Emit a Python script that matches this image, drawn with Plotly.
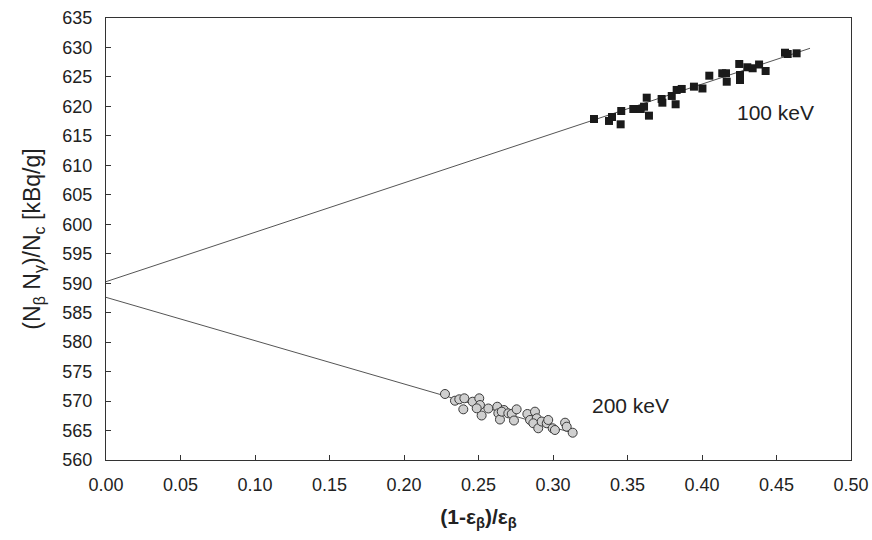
import plotly.graph_objects as go

# 100 keV data (squares)
x_100 = [0.3275, 0.3376, 0.3396, 0.3454, 0.3458, 0.3539, 0.3589, 0.3611, 0.3644, 0.3629,
         0.3729, 0.3734, 0.3797, 0.3823, 0.3830, 0.3864, 0.3946, 0.4003, 0.4049, 0.4136,
         0.4161, 0.4166, 0.4250, 0.4255, 0.4255, 0.4304, 0.4340, 0.4383, 0.4427, 0.4557,
         0.4575, 0.4635]
y_100 = [617.86, 617.53, 618.20, 616.96, 619.22, 619.56, 619.56, 619.95, 618.43, 621.48,
         621.26, 620.63, 621.77, 620.36, 622.79, 622.96, 623.35, 623.04, 625.21, 625.62,
         625.62, 624.19, 627.20, 625.33, 624.48, 626.64, 626.47, 627.11, 626.01, 629.11,
         628.89, 629.01]

# 200 keV data (circles)
x_200 = [0.2275, 0.2342, 0.2371, 0.2405, 0.2398, 0.2461, 0.2505, 0.2510, 0.2521, 0.2566,
         0.2488, 0.2626, 0.2633, 0.2644, 0.2671, 0.2656, 0.2700, 0.2723, 0.2756, 0.2738,
         0.2828, 0.2846, 0.2879, 0.2891, 0.2868, 0.2901, 0.2924, 0.2958, 0.2968, 0.2998,
         0.3013, 0.3081, 0.3092, 0.3132]
y_200 = [571.2, 570.06, 570.3, 570.47, 568.6, 569.89, 570.47, 569.33, 567.55, 568.74,
         568.77, 569.04, 567.92, 566.87, 568.48, 568.2, 567.92, 567.81, 568.6, 566.7,
         567.81, 566.79, 568.2, 567.08, 566.23, 565.38, 566.53, 566.23, 566.79, 565.38,
         565.09, 566.33, 565.65, 564.63]

# fitted lines (extrapolated to x = 0)
fit_x_100 = [0.0, 0.4725]
fit_y_100 = [590.26, 629.86]
fit_x_200 = [0.0, 0.313]
fit_y_200 = [587.6, 564.6]

labels = ["100 keV", "200 keV"]
label_x = [0.449, 0.3517]
label_y = [618.9, 569.3]

x_ticks = [i * 0.05 for i in range(11)]
y_ticks = list(range(560, 636, 5))

FONT = "Liberation Sans, Arial"

fig = go.Figure()
fig.add_trace(go.Scatter(x=fit_x_100, y=fit_y_100, mode="lines",
                         line=dict(color="#555555", width=1), showlegend=False))
fig.add_trace(go.Scatter(x=fit_x_200, y=fit_y_200, mode="lines",
                         line=dict(color="#555555", width=1), showlegend=False))
fig.add_trace(go.Scatter(x=x_100, y=y_100, mode="markers",
                         marker=dict(symbol="square", size=8, color="#1a1a1a",
                                     line=dict(width=0)), showlegend=False))
fig.add_trace(go.Scatter(x=x_200, y=y_200, mode="markers",
                         marker=dict(symbol="circle", size=9, color="#cfcfcf",
                                     line=dict(color="#3a3a3a", width=1)), showlegend=False))

for t, lx, ly in zip(labels, label_x, label_y):
    fig.add_annotation(x=lx, y=ly, text=t, showarrow=False,
                       font=dict(family=FONT, size=21, color="#222222"))

axis_common = dict(showgrid=False, zeroline=False, showline=True, linecolor="#333333",
                   linewidth=1, mirror=True, ticks="inside", ticklen=5, tickcolor="#333333",
                   automargin=False, ticklabeloverflow="allow",
                   tickfont=dict(family=FONT, size=18, color="#222222"))

fig.update_xaxes(range=[0, 0.5], tickvals=x_ticks,
                 ticktext=[f"{v:.2f}" for v in x_ticks], ticklabelstandoff=8,
                 title=dict(text="<b>(1-ε<sub>β</sub>)/ε<sub>β</sub></b>",
                            font=dict(family=FONT, size=21, color="#222222")),
                 **axis_common)
fig.update_yaxes(range=[560, 635], tickvals=y_ticks, ticklabelstandoff=9,
                 title=dict(text="(N<sub>β</sub> N<sub>γ</sub>)/N<sub>c</sub> [kBq/g]",
                            font=dict(family=FONT, size=23, color="#222222")),
                 **axis_common)

fig.update_layout(width=872, height=540, plot_bgcolor="white", paper_bgcolor="white",
                  margin=dict(l=106, r=21, t=18, b=80), showlegend=False)

# remove the default 8px page margin so the figure fills the window exactly
fig.write_html("out.html", config={"displayModeBar": False},
               post_script="document.body.style.margin='0';document.body.style.overflow='hidden';")
